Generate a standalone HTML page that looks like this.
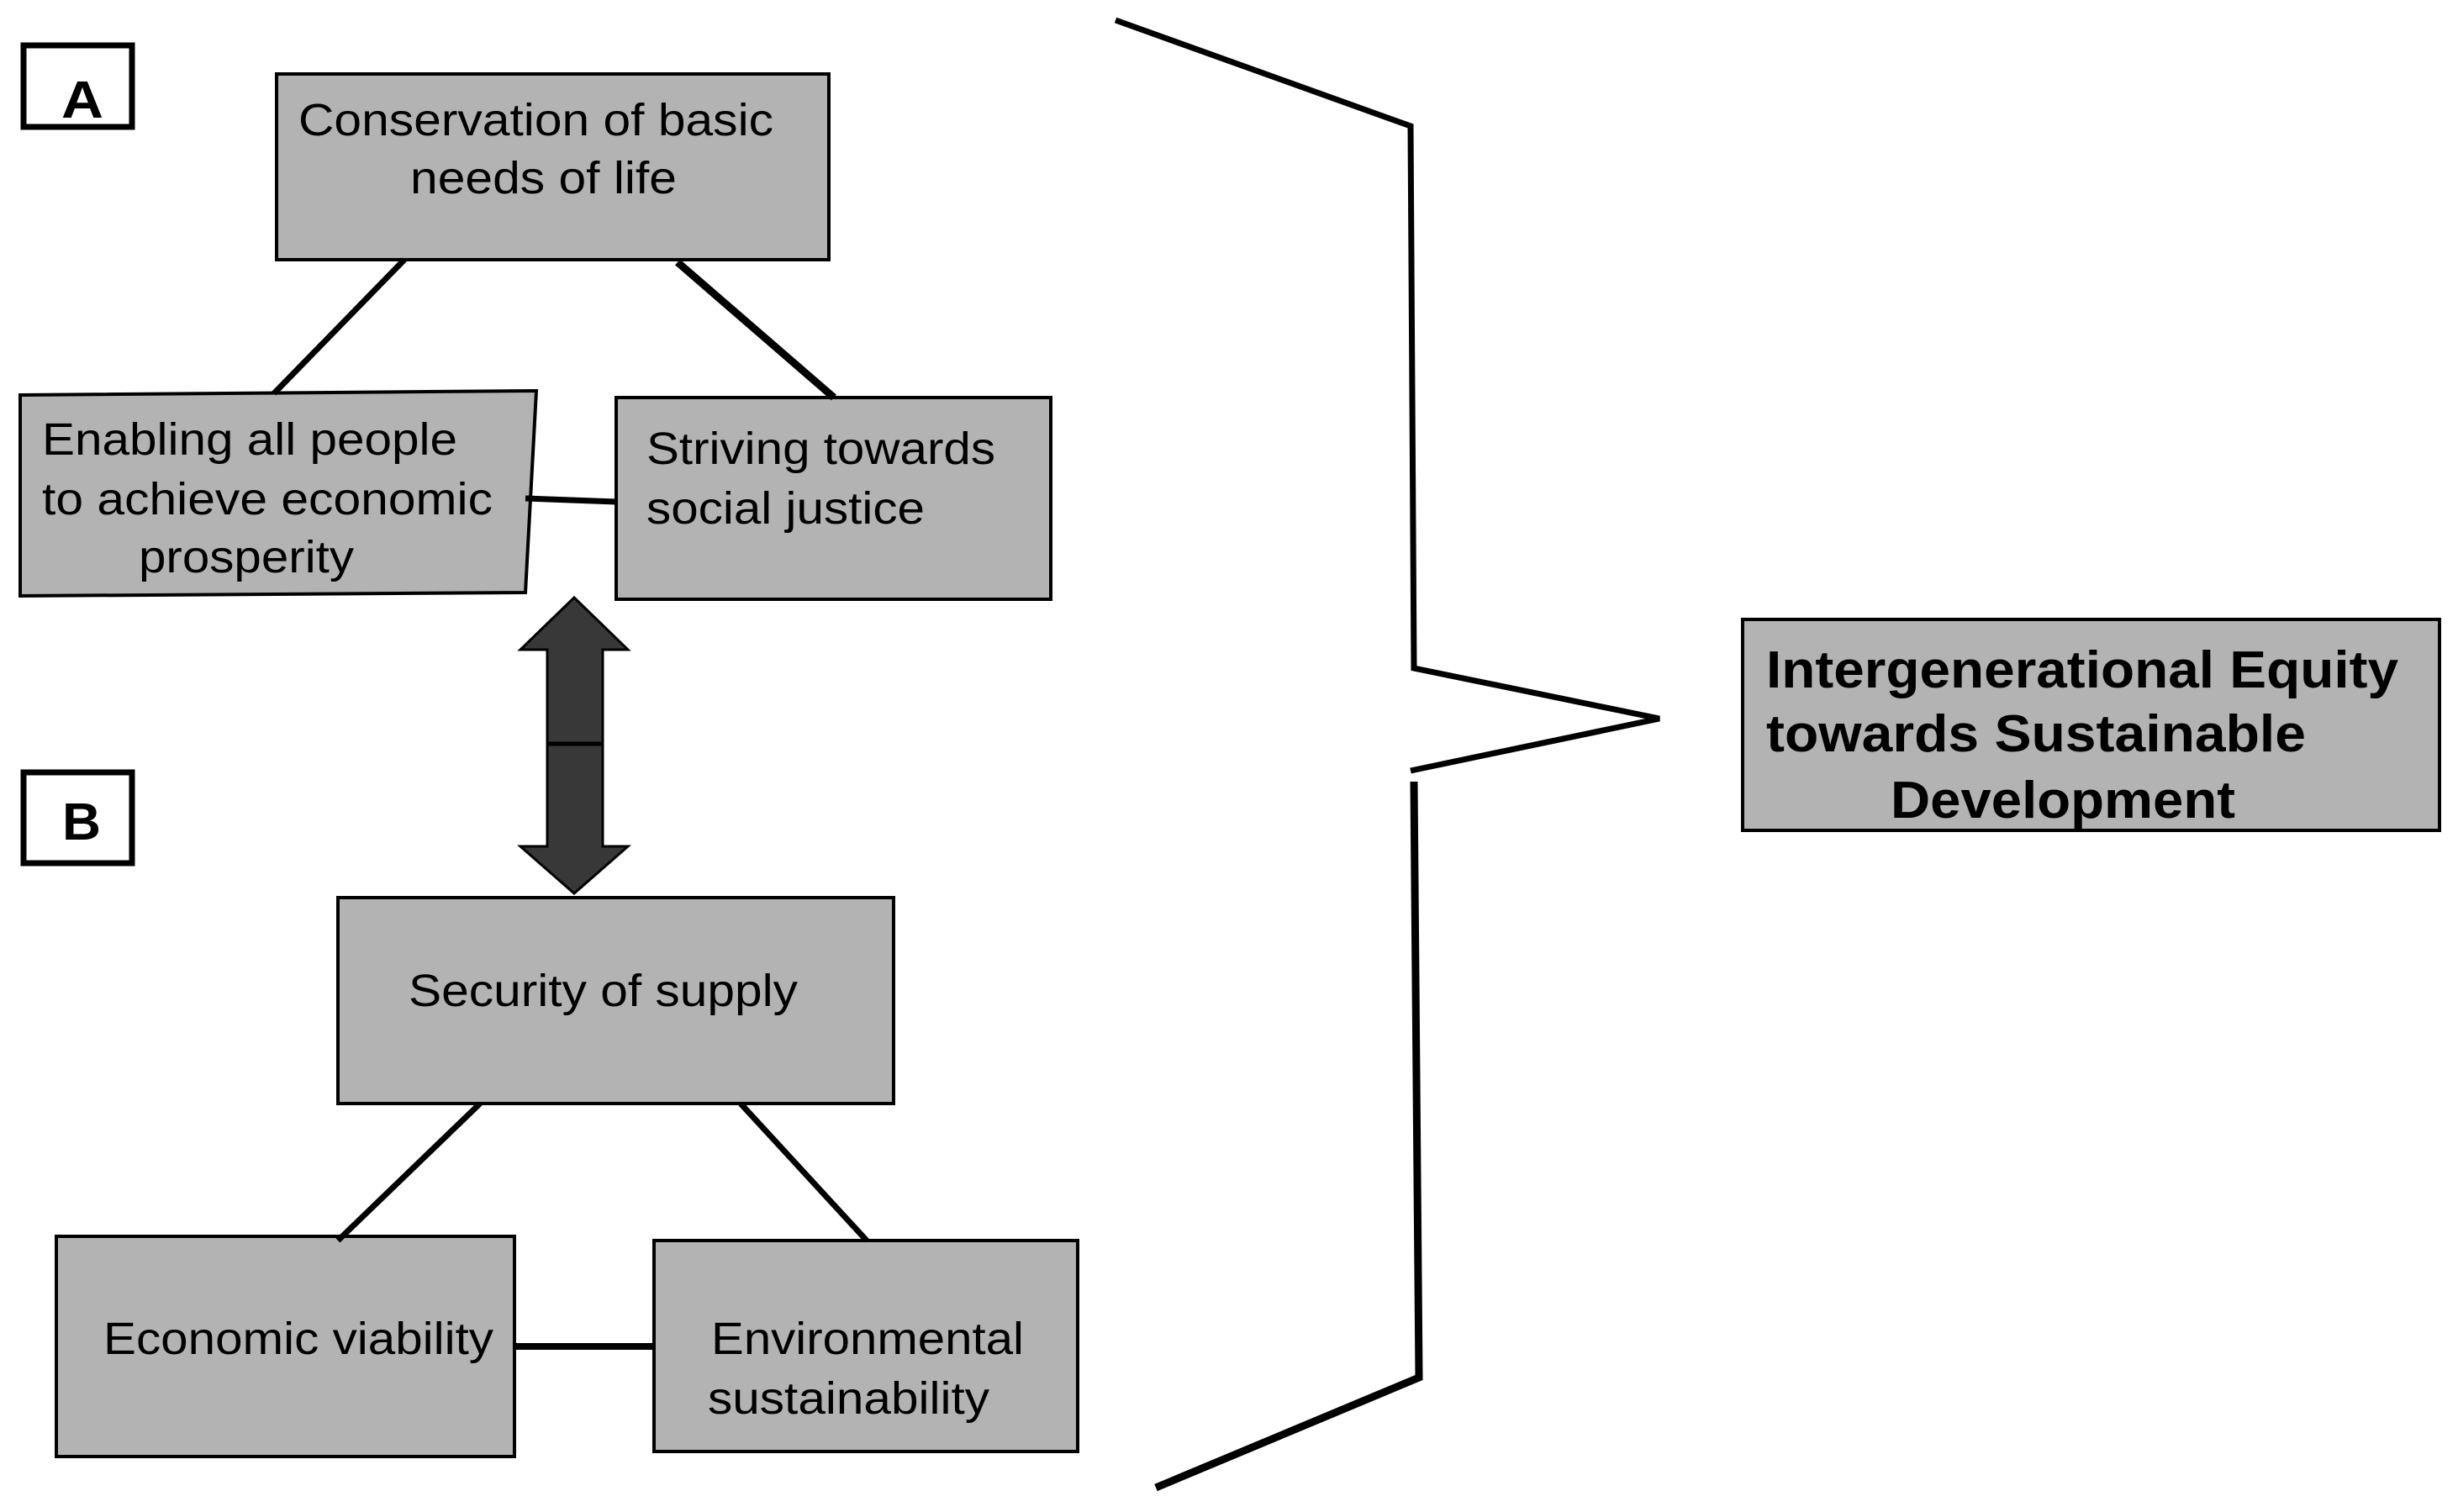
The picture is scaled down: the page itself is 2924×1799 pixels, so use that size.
<!DOCTYPE html>
<html><head><meta charset="utf-8"><style>html,body{margin:0;padding:0;background:#fff}svg{display:block}</style></head><body>
<svg width="2924" height="1799" viewBox="0 0 2924 1799" xmlns="http://www.w3.org/2000/svg" font-family="'Liberation Sans', Arial, sans-serif">
<g fill="#b3b3b3" stroke="#000" stroke-width="4">
<rect x="329" y="88" width="657" height="221"/>
<polygon points="24,470 638,465 625,705 24,709"/>
<rect x="733" y="473" width="517" height="240"/>
<rect x="402" y="1068" width="661" height="245"/>
<rect x="67" y="1471" width="545" height="262"/>
<rect x="778" y="1476" width="504" height="251"/>
<rect x="2073" y="737" width="829" height="251"/>
</g>
<g fill="#fff" stroke="#000" stroke-width="7">
<rect x="28" y="54" width="129" height="97"/>
<rect x="28" y="919" width="129" height="108"/>
</g>
<g stroke="#000" fill="none" stroke-linecap="butt">
<line x1="481" y1="309" x2="326" y2="468" stroke-width="7"/>
<line x1="806" y1="312" x2="992" y2="473" stroke-width="9"/>
<line x1="625" y1="593" x2="733" y2="597" stroke-width="7"/>
<line x1="571" y1="1313" x2="402" y2="1476" stroke-width="7"/>
<line x1="881" y1="1313" x2="1031" y2="1476" stroke-width="7"/>
<line x1="612" y1="1602" x2="778" y2="1602" stroke-width="8"/>
<polyline points="1327,24 1678,150 1682,795 1974,855 1678,917" stroke-width="7"/>
<polyline points="1682,930 1688,1639 1375,1770" stroke-width="9"/>
</g>
<polygon points="683,711 747,773 717,773 717,1007 747,1007 683,1063 619,1007 651,1007 651,773 619,773" fill="#383838" stroke="#000" stroke-width="3"/>
<line x1="651" y1="885" x2="717" y2="885" stroke="#000" stroke-width="5"/>
<g font-size="54" fill="#000">
<text x="355" y="161" textLength="565" lengthAdjust="spacingAndGlyphs">Conservation of basic</text>
<text x="488" y="230" textLength="317" lengthAdjust="spacingAndGlyphs">needs of life</text>
<text x="50" y="541" textLength="494" lengthAdjust="spacingAndGlyphs">Enabling all people</text>
<text x="50" y="612" textLength="536" lengthAdjust="spacingAndGlyphs">to achieve economic</text>
<text x="165" y="681" textLength="256" lengthAdjust="spacingAndGlyphs">prosperity</text>
<text x="769" y="552" textLength="415" lengthAdjust="spacingAndGlyphs">Striving towards</text>
<text x="769" y="623" textLength="331" lengthAdjust="spacingAndGlyphs">social justice</text>
<text x="486" y="1197" textLength="463" lengthAdjust="spacingAndGlyphs">Security of supply</text>
<text x="123" y="1611" textLength="464" lengthAdjust="spacingAndGlyphs">Economic viability</text>
<text x="846" y="1611" textLength="372" lengthAdjust="spacingAndGlyphs">Environmental</text>
<text x="842" y="1682" textLength="335" lengthAdjust="spacingAndGlyphs">sustainability</text>
</g>
<g font-size="62" font-weight="bold" fill="#000">
<text x="2101" y="818" textLength="752" lengthAdjust="spacingAndGlyphs">Intergenerational Equity</text>
<text x="2101" y="894" textLength="642" lengthAdjust="spacingAndGlyphs">towards Sustainable</text>
<text x="2249" y="973" textLength="410" lengthAdjust="spacingAndGlyphs">Development</text>
</g>
<g font-size="62" font-weight="bold" fill="#000">
<text x="73" y="140" textLength="50" lengthAdjust="spacingAndGlyphs">A</text>
<text x="74" y="999" textLength="46" lengthAdjust="spacingAndGlyphs">B</text>
</g>
</svg>
</body></html>
